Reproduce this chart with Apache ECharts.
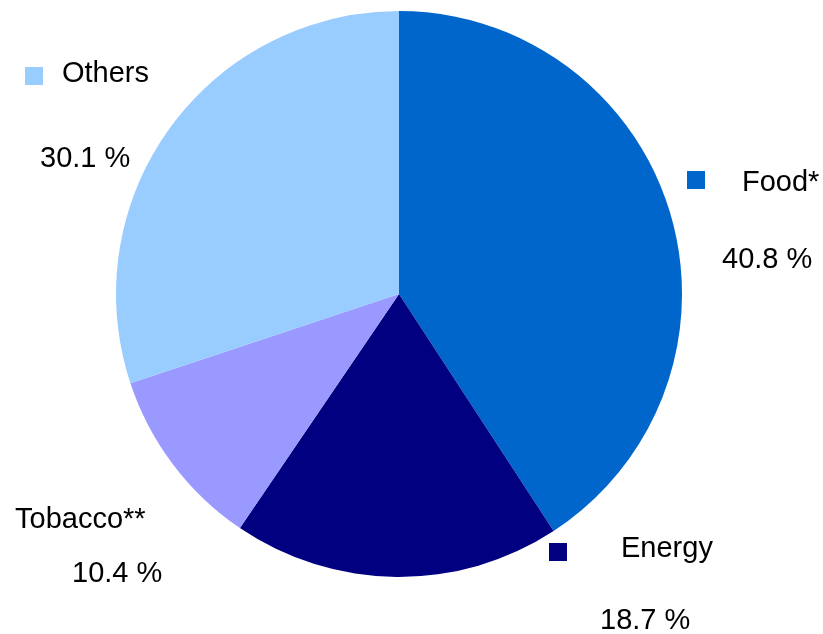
<!DOCTYPE html>
<html>
<head>
<meta charset="utf-8">
<script src="https://cdn.jsdelivr.net/npm/echarts@6/dist/echarts.min.js"></script>
<style>
  html, body { margin: 0; padding: 0; background: #fff; }
  #chart { width: 823px; height: 634px; }
</style>
</head>
<body>
<div id="chart"></div>
<script>
// data, clockwise from 12 o'clock
var names = ['Food*', 'Energy', 'Tobacco**', 'Others']
var values = [40.8, 18.7, 10.4, 30.1]
var colors = ['#0066CC', '#000080', '#9999FF', '#99CCFF']
var showKey = [true, true, false, true]

// where each label block goes: key square centre, name left/centre y, percent left/centre y
var labelPos = [
  { key: [696, 180], name: [742, 183], pct: [722, 260] },
  { key: [558, 552], name: [621, 549], pct: [600, 621] },
  { key: null, name: [15, 520], pct: [72, 574] },
  { key: [34, 76], name: [62, 74], pct: [40, 159] }
]

var font = '29px "Liberation Sans", Arial, sans-serif'

var graphics = []
names.forEach(function (n, i) {
  var p = labelPos[i]
  if (showKey[i] && p.key) {
    graphics.push({
      type: 'rect',
      shape: { x: p.key[0] - 9, y: p.key[1] - 9, width: 18, height: 18 },
      style: { fill: colors[i] }
    })
  }
  graphics.push({
    type: 'text',
    style: { text: n, x: p.name[0], y: p.name[1], font: font, fill: '#000', verticalAlign: 'middle' }
  })
  graphics.push({
    type: 'text',
    style: { text: values[i].toFixed(1) + ' %', x: p.pct[0], y: p.pct[1], font: font, fill: '#000', verticalAlign: 'middle' }
  })
})

var chart = echarts.init(document.getElementById('chart'))
chart.setOption({
  animation: false,
  graphic: graphics,
  series: [
    {
      type: 'pie',
      center: [399, 294],
      radius: [0, 283],
      startAngle: 90,
      clockwise: true,
      label: { show: false },
      labelLine: { show: false },
      emphasis: { disabled: true },
      data: names.map(function (n, i) {
        return { name: n, value: values[i], itemStyle: { color: colors[i] } }
      })
    }
  ]
})
</script>
</body>
</html>
